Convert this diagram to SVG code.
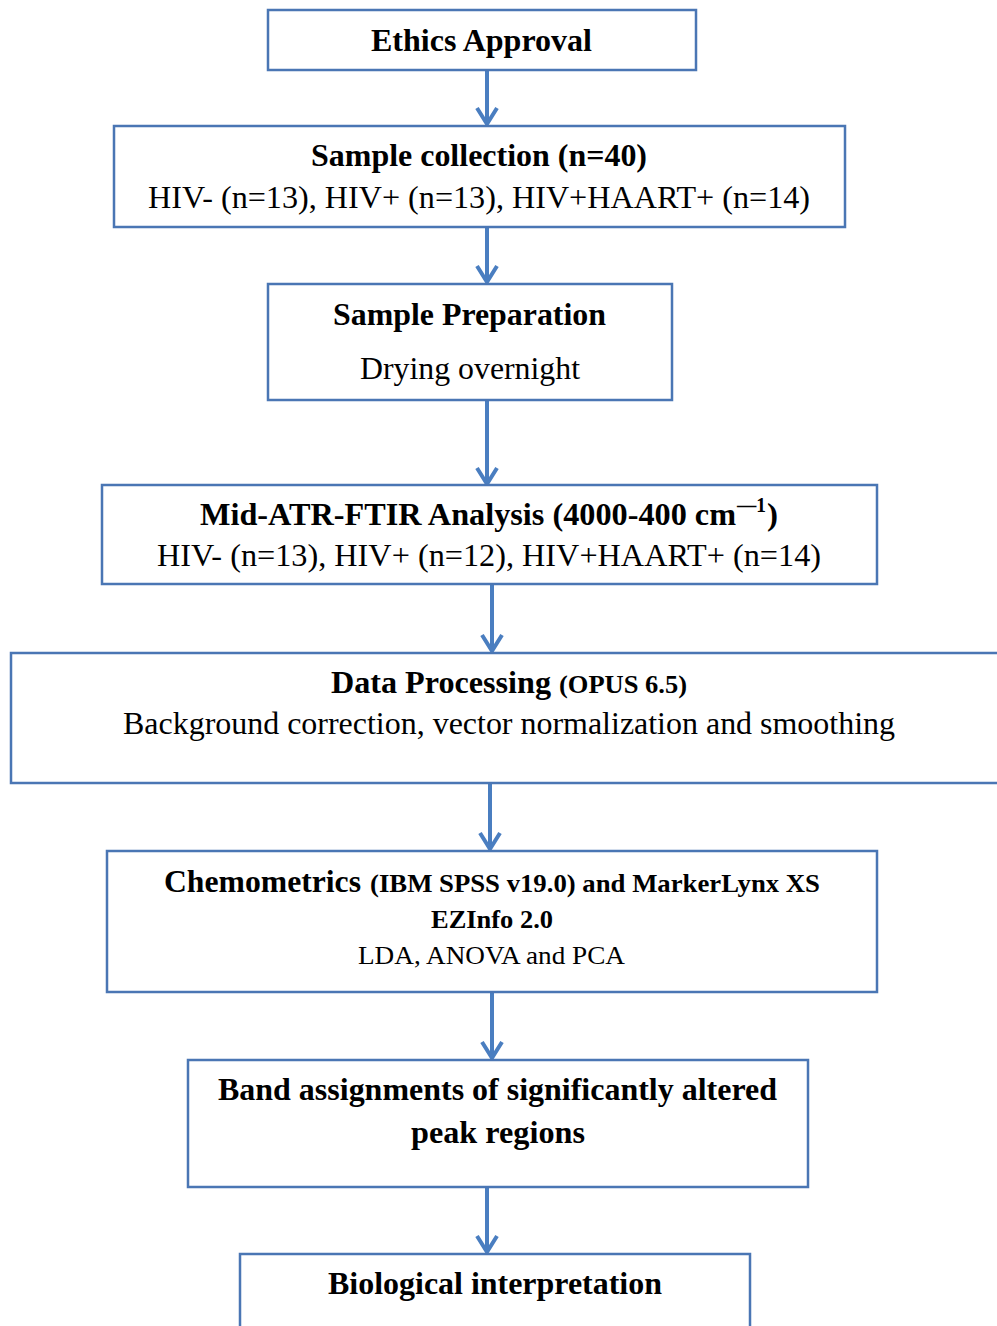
<svg xmlns="http://www.w3.org/2000/svg" width="997" height="1326" viewBox="0 0 997 1326">
<style>
.box{fill:#fff;stroke:#4A76B4;stroke-width:2.5}
.c{stroke:#4A7EC0;stroke-width:4;fill:none}
text{font-family:"Liberation Serif","Times New Roman",serif;fill:#000}
.b{font-weight:bold;font-size:32px}
.r{font-size:32px}
.bs{font-weight:bold;font-size:26px}
.rs{font-size:26px}
</style>
<defs>
<marker id="ah" markerUnits="userSpaceOnUse" markerWidth="24" markerHeight="28" refX="19" refY="14" orient="auto" viewBox="0 0 24 28">
<path d="M3,4 L19,14 L3,24" fill="none" stroke="#4A7EC0" stroke-width="4"/>
</marker>
</defs>
<rect width="997" height="1326" fill="#fff"/>
<g id="connectors">
<line class="c" x1="487" y1="70" x2="487" y2="124" marker-end="url(#ah)"/>
<line class="c" x1="487" y1="227" x2="487" y2="282" marker-end="url(#ah)"/>
<line class="c" x1="487" y1="400" x2="487" y2="484" marker-end="url(#ah)"/>
<line class="c" x1="492" y1="584" x2="492" y2="651" marker-end="url(#ah)"/>
<line class="c" x1="490" y1="783" x2="490" y2="849" marker-end="url(#ah)"/>
<line class="c" x1="492" y1="992" x2="492" y2="1058" marker-end="url(#ah)"/>
<line class="c" x1="487" y1="1187" x2="487" y2="1252" marker-end="url(#ah)"/>
</g>
<g id="ethics">
<rect class="box" x="268" y="10" width="428" height="60"/>
<text class="b" x="371" y="51" textLength="221" lengthAdjust="spacingAndGlyphs">Ethics Approval</text>
</g>
<g id="collection">
<rect class="box" x="114" y="126" width="731" height="101"/>
<text class="b" x="311" y="166" textLength="336" lengthAdjust="spacingAndGlyphs">Sample collection (n=40)</text>
<text class="r" x="148" y="208" textLength="662" lengthAdjust="spacingAndGlyphs">HIV- (n=13), HIV+ (n=13), HIV+HAART+ (n=14)</text>
</g>
<g id="preparation">
<rect class="box" x="268" y="284" width="404" height="116"/>
<text class="b" x="333" y="325" textLength="273" lengthAdjust="spacingAndGlyphs">Sample Preparation</text>
<text class="r" x="360" y="379" textLength="220" lengthAdjust="spacingAndGlyphs">Drying overnight</text>
</g>
<g id="ftir">
<rect class="box" x="102" y="485" width="775" height="99"/>
<text class="b" x="200" y="525" textLength="536" lengthAdjust="spacingAndGlyphs">Mid-ATR-FTIR Analysis (4000-400 cm</text>
<text class="b" x="737" y="512" style="font-size:21px" textLength="29" lengthAdjust="spacingAndGlyphs">—1</text>
<text class="b" x="767" y="525" textLength="11" lengthAdjust="spacingAndGlyphs">)</text>
<text class="r" x="157" y="566" textLength="664" lengthAdjust="spacingAndGlyphs">HIV- (n=13), HIV+ (n=12), HIV+HAART+ (n=14)</text>
</g>
<g id="processing">
<rect class="box" x="11" y="653" width="995" height="130"/>
<text class="b" x="331" y="693" textLength="220" lengthAdjust="spacingAndGlyphs">Data Processing</text>
<text class="bs" x="559" y="693" textLength="128" lengthAdjust="spacingAndGlyphs">(OPUS 6.5)</text>
<text class="r" x="123" y="734" textLength="772" lengthAdjust="spacingAndGlyphs">Background correction, vector normalization and smoothing</text>
</g>
<g id="chemometrics">
<rect class="box" x="107" y="851" width="770" height="141"/>
<text class="b" x="164" y="892" textLength="197" lengthAdjust="spacingAndGlyphs">Chemometrics</text>
<text class="bs" x="370" y="892" textLength="450" lengthAdjust="spacingAndGlyphs">(IBM SPSS v19.0) and MarkerLynx XS</text>
<text class="bs" x="431" y="928" textLength="122" lengthAdjust="spacingAndGlyphs">EZInfo 2.0</text>
<text class="rs" x="358" y="964" textLength="267" lengthAdjust="spacingAndGlyphs">LDA, ANOVA and PCA</text>
</g>
<g id="band">
<rect class="box" x="188" y="1060" width="620" height="127"/>
<text class="b" x="218" y="1100" textLength="559" lengthAdjust="spacingAndGlyphs">Band assignments of significantly altered</text>
<text class="b" x="411" y="1143" textLength="174" lengthAdjust="spacingAndGlyphs">peak regions</text>
</g>
<g id="biological">
<rect class="box" x="240" y="1254" width="510" height="90"/>
<text class="b" x="328" y="1294" textLength="334" lengthAdjust="spacingAndGlyphs">Biological interpretation</text>
</g>
</svg>
